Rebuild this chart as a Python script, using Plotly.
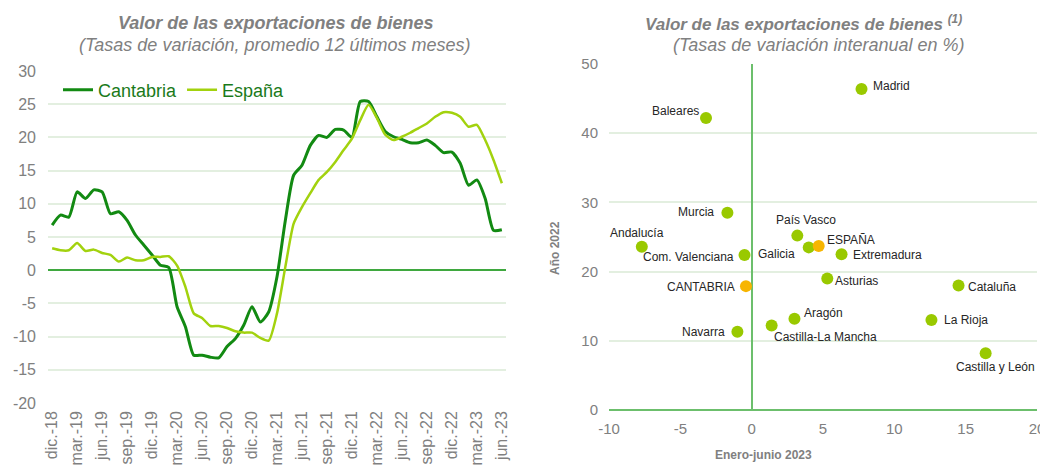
import plotly.graph_objects as go

FONT = "Arial, Liberation Sans, sans-serif"
GREY = "#808080"

# --- left chart: 12-month average growth, monthly dic-18 .. jun-23
months = ["dic.-18", "mar.-19", "jun.-19", "sep.-19", "dic.-19", "mar.-20", "jun.-20",
          "sep.-20", "dic.-20", "mar.-21", "jun.-21", "sep.-21", "dic.-21", "mar.-22",
          "jun.-22", "sep.-22", "dic.-22", "mar.-23", "jun.-23"]
cantabria = [6.8, 8.3, 8.0, 11.8, 10.8, 12.1, 11.8, 8.5, 8.8, 7.5, 5.3, 3.8, 2.3, 0.75, 0.4,
             -5.5, -8.5, -12.8, -12.8, -13.1, -13.2, -11.5, -10.3, -8.3, -5.5, -7.8, -6.3, -1.0,
             7.5, 14.3, 15.8, 18.8, 20.3, 20.0, 21.2, 21.1, 20.0, 25.4, 25.4, 23.1, 20.9, 20.1,
             19.7, 19.2, 19.2, 19.6, 18.8, 17.7, 17.8, 16.1, 12.8, 13.6, 10.8, 6.0, 6.1]
espana = [3.3, 3.0, 3.0, 4.1, 2.9, 3.1, 2.6, 2.3, 1.3, 1.9, 1.5, 1.5, 2.0, 2.0, 2.1,
          0.7, -2.5, -6.5, -7.2, -8.4, -8.4, -8.7, -9.2, -9.4, -9.4, -10.2, -10.6, -6.5,
          0.5, 7.0, 9.5, 11.6, 13.6, 14.8, 16.3, 18.1, 19.8, 22.6, 24.9, 22.9, 20.4, 19.6,
          20.1, 20.7, 21.4, 22.1, 23.1, 23.8, 23.7, 23.1, 21.6, 21.9, 19.6, 16.6, 13.1]
idx = list(range(len(cantabria)))
left_ticks = [30, 25, 20, 15, 10, 5, 0, -5, -10, -15, -20]

# --- right chart: regions, growth jan-jun 2023 vs year 2022
regions = ["Madrid", "Baleares", "Murcia", "Andalucía", "Com. Valenciana", "País Vasco",
           "Galicia", "Extremadura", "Asturias", "Cataluña", "Aragón", "La Rioja",
           "Castilla y León", "Navarra", "Castilla-La Mancha", "ESPAÑA", "CANTABRIA"]
ene_jun_2023 = [7.7, -3.2, -1.7, -7.7, -0.5, 3.2, 4.0, 6.3, 5.3, 14.5, 3.0, 12.6,
                16.4, -1.0, 1.4, 4.7, -0.4]
anio_2022 = [46.4, 42.2, 28.5, 23.6, 22.4, 25.2, 23.5, 22.5, 19.0, 18.0, 13.2, 13.0,
             8.2, 11.3, 12.2, 23.7, 17.9]
right_xticks = [-10, -5, 0, 5, 10, 15, 20]
right_yticks = [0, 10, 20, 30, 40, 50]

# label placement next to each point: (anchor, dx, dy) in screen pixels
label_style = {
    "Madrid": ("left", 9, -3), "Baleares": ("right", -5, -7), "Murcia": ("right", -11, -1),
    "Andalucía": ("center", -5, -14), "Com. Valenciana": ("right", -9, 2),
    "País Vasco": ("center", 9, -16), "Galicia": ("right", -12, 7), "ESPAÑA": ("left", 6, -6),
    "Extremadura": ("left", 9, 1), "Asturias": ("left", 6, 2), "Cataluña": ("left", 7, 2),
    "Aragón": ("left", 8, -6), "La Rioja": ("left", 11, 0), "Castilla y León": ("center", 10, 14),
    "CANTABRIA": ("right", -9, 1), "Navarra": ("right", -10, 0),
    "Castilla-La Mancha": ("left", 0, 11),
}
colors = ["#f7b500" if r in ("ESPAÑA", "CANTABRIA") else "#99c900" for r in regions]

# page body has an 8px margin, so the figure sits at (8, 8)
OFF = 8
W, H = 1048 - OFF, 469 - OFF
def px(x):
    return (x - OFF) / W
def py(y):
    return 1 - (y - OFF) / H

fig = go.Figure()
fig.add_trace(go.Scatter(x=idx, y=cantabria, name="Cantabria", mode="lines",
                         line=dict(color="#128a12", width=3, shape="spline", smoothing=0.6),
                         xaxis="x", yaxis="y"))
fig.add_trace(go.Scatter(x=idx, y=espana, name="España", mode="lines",
                         line=dict(color="#a2d20e", width=2.5, shape="spline", smoothing=0.6),
                         xaxis="x", yaxis="y"))
fig.add_trace(go.Scatter(x=ene_jun_2023, y=anio_2022, mode="markers", showlegend=False,
                         marker=dict(color=colors, size=12),
                         xaxis="x2", yaxis="y2", cliponaxis=False))

for r, xv, yv in zip(regions, ene_jun_2023, anio_2022):
    anchor, dx, dy = label_style[r]
    fig.add_annotation(x=xv, y=yv, xref="x2", yref="y2", text=r, showarrow=False,
                       xanchor=anchor, yanchor="middle", xshift=dx, yshift=-dy,
                       font=dict(size=12, color="#262626", family=FONT))

fig.update_layout(
    width=W, height=H,
    margin=dict(l=0, r=0, t=0, b=0),
    paper_bgcolor="white", plot_bgcolor="white",
    font=dict(family=FONT, color=GREY),
    legend=dict(orientation="h", x=px(58), y=py(90), xanchor="left", yanchor="middle",
                font=dict(size=18, color="#1a7a1a"), bgcolor="rgba(0,0,0,0)",
                itemwidth=30, tracegroupgap=0),
    xaxis=dict(domain=[px(48), px(506)], range=[-0.5, 54.5], automargin=False,
               tickvals=idx[::3], ticktext=months, tickangle=-90, ticklabelstandoff=4,
               tickfont=dict(size=16, color=GREY), showgrid=False, zeroline=False,
               ticks="", showline=False),
    yaxis=dict(domain=[py(403), py(71)], range=[-20, 30], automargin=False,
               tickvals=left_ticks, ticktext=[str(v) for v in left_ticks], ticklabelstandoff=11,
               tickfont=dict(size=16, color=GREY), gridcolor="#e3efe0", gridwidth=1.5,
               zeroline=True, zerolinecolor="#3fa83f", zerolinewidth=1.5, ticks=""),
    xaxis2=dict(domain=[px(609), px(1037)], range=[-10, 20], anchor="y2", automargin=False,
                tickvals=right_xticks, ticktext=[str(v) for v in right_xticks],
                ticklabelstandoff=8,
                tickfont=dict(size=15, color=GREY), showgrid=False,
                zeroline=True, zerolinecolor="#6cbf6c", zerolinewidth=2, ticks=""),
    yaxis2=dict(domain=[py(410), py(64)], range=[0, 50], anchor="x2", automargin=False,
                tickvals=right_yticks, ticktext=[str(v) for v in right_yticks],
                ticklabelstandoff=10,
                tickfont=dict(size=15, color=GREY), gridcolor="#e3efe0", gridwidth=1.5,
                zeroline=True, zerolinecolor="#6cbf6c", zerolinewidth=2, ticks=""),
)

title_font = dict(family=FONT, color=GREY)
annots = [
    dict(x=275, y=23, text="<b><i>Valor de las exportaciones de bienes</i></b>", size=18),
    dict(x=275, y=45, text="<i>(Tasas de variación, promedio 12 últimos meses)</i>", size=18),
    dict(x=803, y=23, text="<b><i>Valor de las exportaciones de bienes <sup>(1)</sup></i></b>", size=17),
    dict(x=819, y=45, text="<i>(Tasas de variación interanual en %)</i>", size=18),
]
for a in annots:
    fig.add_annotation(x=px(a["x"]), y=py(a["y"]), xref="paper", yref="paper",
                       text=a["text"], showarrow=False, xanchor="center", yanchor="middle",
                       font=dict(size=a["size"], **title_font))

fig.add_annotation(x=px(814), y=py(464), xref="paper", yref="paper",
                   text="<b>Enero-junio 2023</b>", showarrow=False,
                   font=dict(size=12, family=FONT, color=GREY))
fig.add_annotation(x=px(555), y=py(248), xref="paper", yref="paper",
                   text="<b>Año 2022</b>", showarrow=False, textangle=-90,
                   font=dict(size=12, family=FONT, color=GREY))

fig.write_html("out.html")
